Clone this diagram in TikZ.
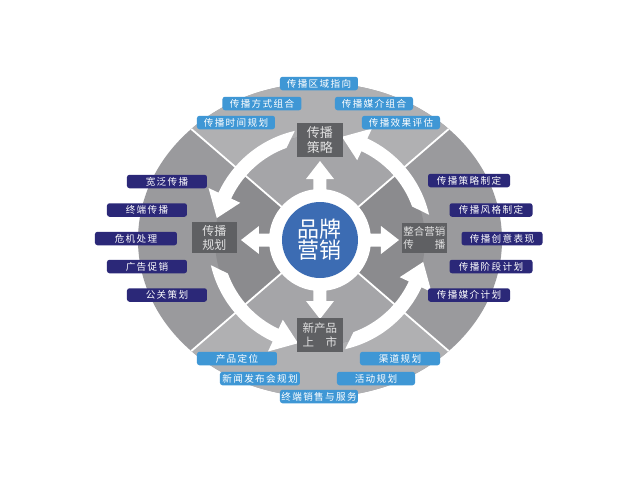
\documentclass[tikz,border=0pt]{standalone}
\usepackage{fontspec}
\newfontfamily\cjk{Noto Sans CJK SC}
\newfontfamily\cjklab[LetterSpace=14]{Noto Sans CJK SC}
\definecolor{outtop}{HTML}{B0B0B2}
\definecolor{outside}{HTML}{9A9A9D}
\definecolor{intop}{HTML}{A5A5A8}
\definecolor{inside}{HTML}{8B8B8E}
\definecolor{coreblue}{HTML}{3C6CB3}
\definecolor{boxgray}{HTML}{5F6063}
\definecolor{boxtext}{HTML}{E2E2E2}
\definecolor{labblue}{HTML}{3F97D5}
\definecolor{labnavy}{HTML}{2B2878}
\tikzset{
  lab/.style={rounded corners=2.5pt, minimum width=80pt, minimum height=13.5pt, inner sep=0pt,
    text=white, font=\cjklab\fontsize{9.6}{12}\selectfont},
  lightlab/.style={lab, fill=labblue},
  navylab/.style={lab, fill=labnavy},
  stagebox/.style={fill=boxgray, text=boxtext, inner sep=0pt, align=center},
  divline/.style={white, line width=1.8pt},
}
\begin{document}
\begin{tikzpicture}[x=1pt,y=1pt]
\useasboundingbox (-320,-240) rectangle (320,240);
\fill[white] (-320,-240) rectangle (320,240);
% outer ellipse with sectors
\begin{scope}
  \clip (0,0) ellipse [x radius=182pt, y radius=157pt];
  \fill[outside] (-200,-200) rectangle (200,200);
  \fill[outtop] (0,0) -- (386,333) -- (-386,333) -- cycle;
  \fill[outtop] (0,0) -- (386,-333) -- (-386,-333) -- cycle;
\end{scope}
% inner ring
\begin{scope}
  \clip (0,0) circle (105pt);
  \fill[inside] (-120,-120) rectangle (120,120);
  \fill[intop] (0,0) -- (386,333) -- (-386,333) -- cycle;
  \fill[intop] (0,0) -- (386,-333) -- (-386,-333) -- cycle;
\end{scope}
% dividing lines
\coordinate (e1) at (128.7,111);
\coordinate (e2) at (-128.7,111);
\coordinate (e3) at (-128.7,-111);
\coordinate (e4) at (128.7,-111);
\foreach \e in {e1,e2,e3,e4} \draw[divline] (0,0) -- (\e);
% white disk and blue core
\fill[white] (0,0) circle (51pt);
\node[circle, fill=coreblue, minimum size=76pt, inner sep=0pt, text=white, align=center,
  font=\cjk\fontsize{22}{21}\selectfont] (core) at (0,0) {品牌\\营销};
% circular arrows
\foreach \b [evaluate=\b as \s using \b+13, evaluate=\b as \q using \b+20,
  evaluate=\b as \h using \b+65, evaluate=\b as \t using \b+78] in {0,90,180,270}
  \fill[white] (\s:112) arc[start angle=\s, end angle=\h, radius=112pt] -- (\h:123) -- (\t:105.5)
    -- (\h:88) -- (\h:98) arc[start angle=\h, end angle=\q, radius=98pt] -- cycle;
% block arrows from core
\foreach \a in {0,90,180,270}
  \fill[white, rotate=\a] (45,-6.5) -- (61,-6.5) -- (61,-14) -- (79,0) -- (61,14) -- (61,6.5) -- (45,6.5) -- cycle;
% stage boxes
\node[stagebox, minimum width=46pt, minimum height=34pt, font=\cjk\fontsize{13}{15}\selectfont]
  (plan) at (0,100) {传播\\策略};
\node[stagebox, minimum width=45pt, minimum height=31pt, font=\cjk\fontsize{12}{14}\selectfont]
  (spread) at (-105.5,2.5) {传播\\规划};
\node[stagebox, minimum width=45pt, minimum height=30pt, font=\cjk\fontsize{10.5}{13}\selectfont]
  (imc) at (104.5,2) {整合营销\\\makebox[4em]{传\hfill 播}};
\node[stagebox, minimum width=46pt, minimum height=34pt, font=\cjk\fontsize{11.5}{14}\selectfont]
  (launch) at (0,-95) {新产品\\\makebox[3em]{上\hfill 市}};
% top labels
\node[lightlab, minimum width=78pt] (t1) at (-1,156.5) {传播区域指向};
\node[lightlab, minimum width=79pt] (t2) at (-58,136.5) {传播方式组合};
\node[lightlab, minimum width=78pt] (t3) at (54,136.5) {传播媒介组合};
\node[lightlab, minimum width=78pt] (t4) at (-84,117.5) {传播时间规划};
\node[lightlab, minimum width=78pt] (t5) at (81,117.5) {传播效果评估};
% left labels
\node[navylab] (l1) at (-153,58.5) {宽泛传播};
\node[navylab] (l2) at (-173,30) {终端传播};
\node[navylab, minimum width=82pt] (l3) at (-184,1.5) {危机处理};
\node[navylab] (l4) at (-173,-26.5) {广告促销};
\node[navylab] (l5) at (-153,-55) {公关策划};
% right labels
\node[navylab, minimum width=82pt] (r1) at (149,59.5) {传播策略制定};
\node[navylab, minimum width=83pt] (r2) at (171,30) {传播风格制定};
\node[navylab, minimum width=81pt] (r3) at (182,1.5) {传播创意表现};
\node[navylab, minimum width=83pt] (r4) at (171,-26.5) {传播阶段计划};
\node[navylab, minimum width=82pt] (r5) at (149,-55) {传播媒介计划};
% bottom labels
\node[lightlab] (b1) at (-83,-118.5) {产品定位};
\node[lightlab] (b2) at (80,-118.5) {渠道规划};
\node[lightlab] (b3) at (-60,-138.5) {新闻发布会规划};
\node[lightlab, minimum width=78pt] (b4) at (56,-138.5) {活动规划};
\node[lightlab, minimum width=78pt] (b5) at (-1,-156.5) {终端销售与服务};
\end{tikzpicture}
\end{document}
